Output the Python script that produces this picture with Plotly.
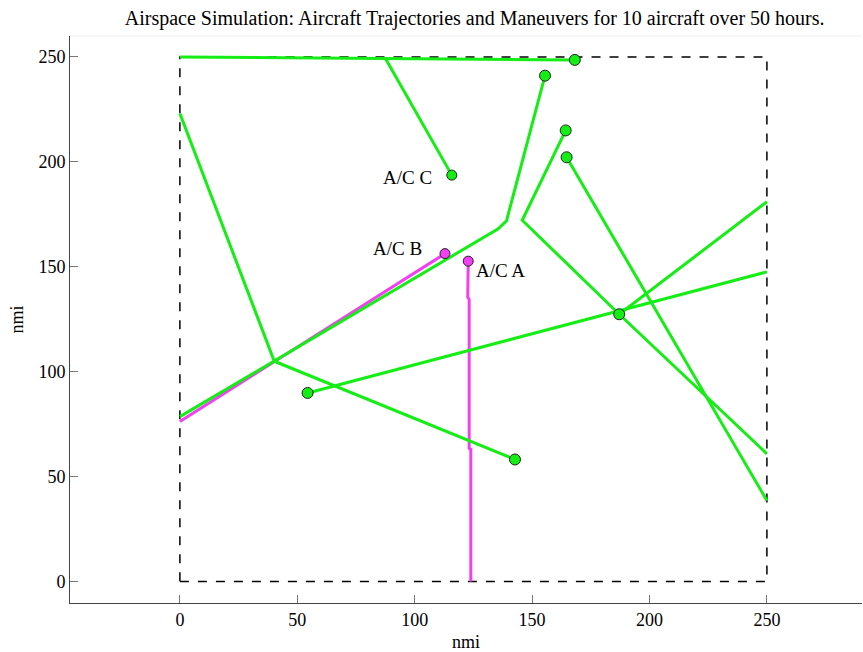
import plotly.graph_objects as go

# Trajectories (nmi); last point of each is the aircraft's current position
ac_a_x = [123.9, 123.9, 123.2, 123.2, 122.6, 122.8]
ac_a_y = [0.0, 63.0, 63.5, 134.5, 135.5, 152.7]
ac_b_x = [0.0, 112.9]
ac_b_y = [76.3, 156.3]
ac_c_x = [87.3, 115.8]
ac_c_y = [249.7, 193.7]

green_tracks = [
    ([0.0, 40.2, 142.7], [223.1, 105.0, 58.2]),
    ([0.0, 135.4, 139.1, 155.5], [78.6, 168.0, 171.9, 241.1]),
    ([250.0, 201.6, 187.1, 145.8, 164.3], [60.9, 111.8, 127.4, 172.2, 215.0]),
    ([250.0, 164.7], [38.6, 202.2]),
    ([250.0, 54.4], [147.6, 89.9]),
    ([250.0, 187.1], [181.0, 127.4]),
    ([0.0, 168.2], [250.0, 248.6]),
]

box_x = [0, 250, 250, 0, 0]
box_y = [0, 0, 250, 250, 0]

labels = ["A/C A", "A/C B", "A/C C"]
label_x = [125.4, 104.0, 108.4]
label_y = [148.4, 158.6, 192.7]
label_anchor = ["left", "right", "right"]

GREEN = "#14ee14"
MAGENTA = "#f23ff2"
FONT = "Liberation Serif"

fig = go.Figure()

fig.add_trace(go.Scatter(x=box_x, y=box_y, mode="lines",
                         line=dict(color="black", width=1.5, dash="dash"),
                         hoverinfo="skip"))

for xs, ys in [(ac_a_x, ac_a_y), (ac_b_x, ac_b_y)]:
    fig.add_trace(go.Scatter(x=xs, y=ys, mode="lines",
                             line=dict(color=MAGENTA, width=3)))

fig.add_trace(go.Scatter(x=ac_c_x, y=ac_c_y, mode="lines",
                         line=dict(color=GREEN, width=3)))
for xs, ys in green_tracks:
    fig.add_trace(go.Scatter(x=xs, y=ys, mode="lines",
                             line=dict(color=GREEN, width=3)))

# end markers
fig.add_trace(go.Scatter(x=[ac_a_x[-1], ac_b_x[-1]], y=[ac_a_y[-1], ac_b_y[-1]],
                         mode="markers",
                         marker=dict(size=10, color=MAGENTA,
                                     line=dict(color="#222", width=1))))
fig.add_trace(go.Scatter(x=[ac_c_x[-1]], y=[ac_c_y[-1]], mode="markers",
                         marker=dict(size=10, color=GREEN,
                                     line=dict(color="#222", width=1))))
fig.add_trace(go.Scatter(x=[t[0][-1] for t in green_tracks],
                         y=[t[1][-1] for t in green_tracks],
                         mode="markers",
                         marker=dict(size=11, color=GREEN,
                                     line=dict(color="#222", width=1))))

for t, lx, ly, anc in zip(labels, label_x, label_y, label_anchor):
    fig.add_annotation(x=lx, y=ly, text=t, showarrow=False, xanchor=anc,
                       yanchor="middle",
                       font=dict(family=FONT, size=19, color="black"))

fig.add_shape(type="line", xref="paper", yref="paper", x0=0, x1=1, y0=1, y1=1,
              line=dict(color="#eeeeee", width=1))

axis_common = dict(showgrid=False, zeroline=False, showline=True,
                   linecolor="#444", linewidth=1, ticks="inside", ticklen=8,
                   tickcolor="#777", tickfont=dict(family=FONT, size=18,
                                                   color="black"),
                   tickvals=[0, 50, 100, 150, 200, 250])

fig.update_layout(
    width=863, height=652,
    margin=dict(l=70, r=1, t=36, b=49),
    plot_bgcolor="white", paper_bgcolor="white",
    showlegend=False,
    title=dict(text="Airspace Simulation: Aircraft Trajectories and Maneuvers for 10 aircraft over 50 hours.",
               x=0.55, xanchor="center", y=0.972, yanchor="middle",
               font=dict(family=FONT, size=20, color="black")),
    xaxis=dict(range=[-46.8, 290.5], title=dict(text="nmi", standoff=7,
               font=dict(family=FONT, size=18, color="black")),
               **axis_common),
    yaxis=dict(range=[-10.2, 260], title=dict(text="nmi", standoff=10,
               font=dict(family=FONT, size=18, color="black")),
               **axis_common),
)

fig.write_html("out.html")
